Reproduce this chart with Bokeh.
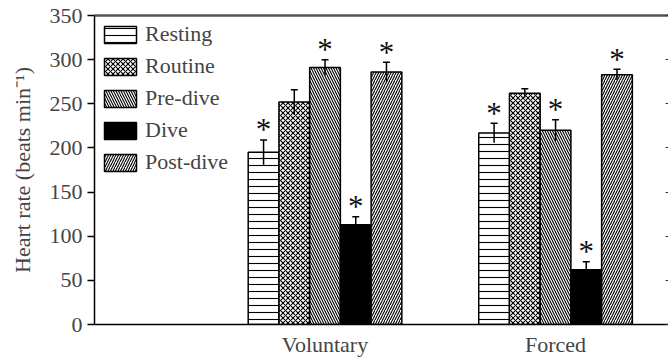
from bokeh.plotting import figure
from bokeh.models import Range1d, FixedTicker, LinearAxis, Whisker, TeeHead, ColumnDataSource
from bokeh.core.properties import value
from bokeh.embed import file_html
from bokeh.resources import INLINE

# ---- data ----
groups = ["Voluntary", "Forced"]
conditions = ["Resting", "Routine", "Pre-dive", "Dive", "Post-dive"]
resting = [195, 217]
routine = [252, 262]
predive = [291, 220]
dive = [113, 62]
postdive = [286, 283]
resting_se = [14, 11]
routine_se = [14, 5]
predive_se = [9, 12]
dive_se = [9, 9]
postdive_se = [11, 6]
resting_sig = [True, True]
routine_sig = [False, False]
predive_sig = [True, True]
dive_sig = [True, True]
postdive_sig = [True, True]
y_ticks = [0, 50, 100, 150, 200, 250, 300, 350]

means = [resting, routine, predive, dive, postdive]
ses = [resting_se, routine_se, predive_se, dive_se, postdive_se]
sigs = [resting_sig, routine_sig, predive_sig, dive_sig, postdive_sig]

# ---- styles ----
hatches = ["horizontal_line", "diagonal_cross", "left_diagonal_line", " ", "right_diagonal_line"]
hatch_scales = [7, 5, 5, 5, 5]
fills = ["white", "white", "white", "black", "white"]
FONT = "Liberation Serif"
bar_w = 0.1333
group_pos = [i + 2 for i in range(len(groups))]

p = figure(width=668, height=361, x_range=Range1d(1.0, 3.49), y_range=Range1d(0, 350),
           output_backend="svg", toolbar_location=None,
           min_border_left=94, min_border_top=15, min_border_bottom=37, min_border_right=0)
p.xgrid.visible = False
p.ygrid.visible = False
p.outline_line_color = None
p.background_fill_color = "white"

for i, cond in enumerate(conditions):
    xs = [g + (i - 2) * bar_w for g in group_pos]
    src = ColumnDataSource(dict(
        x=xs, top=means[i],
        upper=[m + s for m, s in zip(means[i], ses[i])],
        lower=[m - s for m, s in zip(means[i], ses[i])],
    ))
    p.vbar(x="x", top="top", width=bar_w, bottom=0, source=src,
           fill_color=fills[i], line_color="black", line_width=1.5,
           hatch_pattern=hatches[i], hatch_color="black", hatch_scale=hatch_scales[i],
           hatch_weight=1.1, legend_label=cond)
    w = Whisker(base="x", upper="upper", lower="lower", source=src, level="overlay",
                line_color="black", line_width=1.5,
                upper_head=TeeHead(size=7, line_width=1.5, line_color="black"),
                lower_head=None)
    p.add_layout(w)
    sx = [x for x, s in zip(xs, sigs[i]) if s]
    sy = [m + s for m, s, g in zip(means[i], ses[i], sigs[i]) if g]
    p.text(x=sx, y=sy, text=["*"] * len(sx), text_font=value(FONT), text_font_size="31px",
           text_align="center", text_baseline="alphabetic", text_color="#111111", y_offset=-10)

# axes
yax = p.yaxis[0]
yax.ticker = FixedTicker(ticks=y_ticks)
yax.axis_label = "Heart rate (beats min\u207b\u00b9)"
yax.axis_label_text_font = FONT
yax.axis_label_text_font_style = "normal"
yax.axis_label_text_font_size = "22px"
yax.axis_label_standoff = 12
yax.major_label_text_font = FONT
yax.major_label_text_font_size = "22px"
yax.major_label_standoff = 5
yax.major_tick_out = 7
yax.major_tick_in = 0
yax.minor_tick_out = 0
yax.minor_tick_in = 0
yax.axis_line_width = 1.5
yax.major_tick_line_width = 1.5

xax = p.xaxis[0]
xax.ticker = FixedTicker(ticks=group_pos)
xax.major_label_overrides = {g: name for g, name in zip(group_pos, groups)}
xax.major_label_text_font = FONT
xax.major_label_text_font_size = "22px"
xax.major_label_standoff = 7
xax.major_tick_out = 0
xax.major_tick_in = 0
xax.minor_tick_out = 0
xax.minor_tick_in = 0
xax.axis_line_width = 1.5

top = LinearAxis(ticker=FixedTicker(ticks=[]), axis_line_color="#555555", axis_line_width=2.5,
                 major_tick_out=0, major_tick_in=0,
                 minor_tick_out=0, minor_tick_in=0, major_label_standoff=0)
p.add_layout(top, "above")

right = LinearAxis(ticker=FixedTicker(ticks=y_ticks), axis_line_color=None,
                   major_label_overrides={t: "" for t in y_ticks},
                   major_tick_out=0, major_tick_in=3,
                   minor_tick_out=0, minor_tick_in=0, major_label_standoff=0,
                   major_tick_line_color="#333333")
p.add_layout(right, "right")

lg = p.legend[0]
lg.location = "top_left"
lg.margin = 6
lg.padding = 3
lg.spacing = 6
lg.glyph_width = 40
lg.glyph_height = 21
lg.label_standoff = 5
lg.label_text_font = FONT
lg.label_text_font_size = "22px"
lg.border_line_color = None
lg.background_fill_alpha = 0

open("out.html", "w").write(file_html(p, INLINE))
